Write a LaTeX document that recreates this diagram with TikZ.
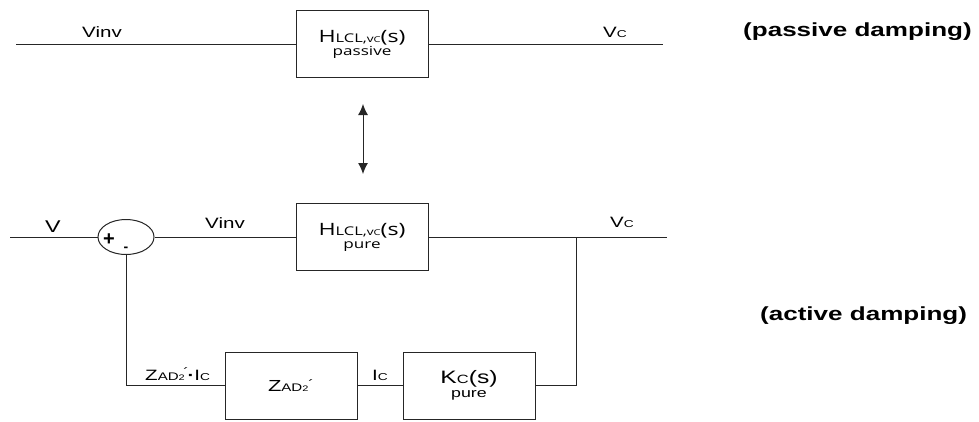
\documentclass[tikz,border=0pt]{standalone}
\usepackage{fontspec}
\usepackage{graphicx}
\setmainfont{Liberation Sans}
\newfontfamily\osans{Open Sans}
\usetikzlibrary{shapes.geometric,arrows.meta}
\newcommand{\hs}[1]{\scalebox{1.37}[1]{#1}}
\newcommand{\fs}[1]{\fontsize{#1}{#1}\selectfont}
\tikzset{
  wire/.style={draw=black!85, line width=1pt},
  blockbox/.style={draw=black!85, line width=1pt, minimum width=132pt, minimum height=67pt, inner sep=0pt, align=center, font=\fontsize{12}{13}\selectfont},
  lbl/.style={inner sep=0pt, anchor=base west, font=\fs{15}},
  title/.style={inner sep=0pt, anchor=base west, font=\fs{19}\bfseries},
}
\begin{document}
\begin{tikzpicture}[x=1pt,y=-1pt]
\useasboundingbox (0,0) rectangle (979,421);
% top row
\node[blockbox] (htop) at (362,44) {\hs{\osans\fs{17}H{\fs{12}LCL,}{\fs{10}v{\fs{8}C}}(s)}\\\hs{\osans\fs{12.5}passive}};
\coordinate (tin) at (16,44);
\coordinate (tout) at (663,44);
\draw[wire] (tin) -- (htop.west);
\draw[wire] (htop.east) -- (tout);
\node[lbl] (lvinvtop) at (82,37) {\hs{Vinv}};
\node[lbl] (lvctop) at (603,37) {\hs{V{\fs{10}C}}};
\node[title] (tpass) at (743,36) {\hs{(passive damping)}};
% double arrow
\coordinate (a1) at (363,104);
\coordinate (a2) at (363,174);
\draw[wire, {Latex[length=11pt,width=10pt]}-{Latex[length=11pt,width=10pt]}] (a1) -- (a2);
% middle row
\node[draw=black!85, line width=1pt, ellipse, minimum width=56pt, minimum height=35pt, inner sep=0pt] (sum) at (126,237) {};
\node[blockbox] (hmid) at (362,237) {\hs{\osans\fs{17}H{\fs{12}LCL,}{\fs{10}v{\fs{8}C}}(s)}\\\hs{\osans\fs{12.5}pure}};
\coordinate (vin) at (10,237);
\coordinate (vout) at (667,237);
\coordinate (j) at (576,237);
\draw[wire] (vin) -- (sum.west);
\draw[wire] (sum.east) -- (hmid.west);
\draw[wire] (hmid.east) -- (vout);
\node[lbl, font=\fs{17}] (lv) at (45,232) {\hs{V}};
\node[lbl] (lvinvmid) at (205,228) {\hs{Vinv}};
\node[lbl] (lvcmid) at (610,227) {\hs{V{\fs{10}C}}};
\node[inner sep=0pt, font=\fs{20}\bfseries] (plus) at (109,240) {+};
\node[inner sep=0pt, font=\fs{14}\bfseries] (minus) at (126,249) {-};
\node[title] (tact) at (760,320) {\hs{(active damping)}};
% bottom row
\node[blockbox] (zbox) at (291,385.5) {\hs{\fs{16}Z{\fs{11}AD}{\fs{8}2}\raisebox{3pt}{\fs{12}´}}};
\node[blockbox, font=\fontsize{12}{14}\selectfont] (kbox) at (469,385.5) {\hs{\fs{18}K{\fs{12}C}(s)}\\\hs{\fs{13}pure}};
\draw[wire] (kbox.east) -| (j);
\draw[wire] (kbox.west) -- (zbox.east);
\draw[wire] (zbox.west) -| (sum.south);
\node[lbl] (lzi) at (145,380) {\hs{Z{\fs{11}AD}{\fs{8}2}\kern-1pt\raisebox{4pt}{\fs{12}´}\kern-1pt{\bfseries·}I{\fs{10}C}}};
\node[lbl] (lic) at (372,380) {\hs{I{\fs{10}C}}};
\end{tikzpicture}
\end{document}
